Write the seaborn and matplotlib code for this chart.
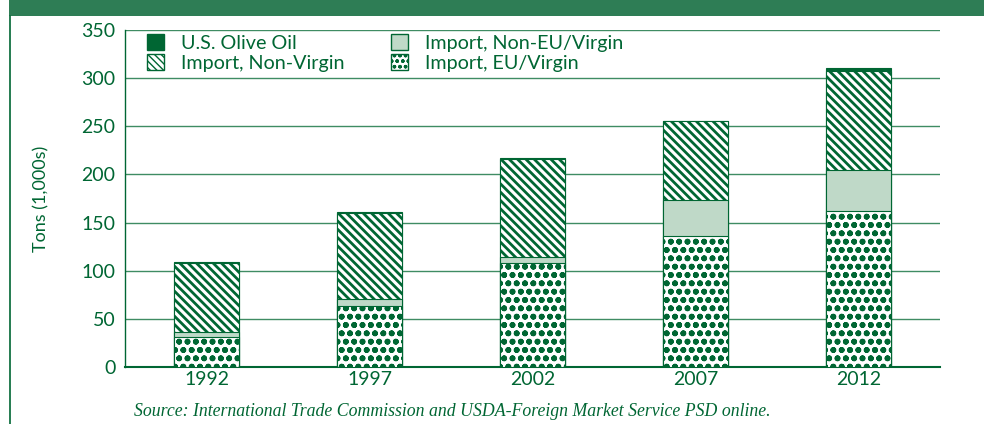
import matplotlib
matplotlib.use("Agg")
import matplotlib.pyplot as plt
import seaborn as sns
import numpy as np
import pandas as pd
from matplotlib.patches import Patch, Rectangle
from matplotlib.lines import Line2D

# ---- data (thousand tons) ----
years = ["1992", "1997", "2002", "2007", "2012"]
eu_virgin = [31, 63, 108, 136, 162]
non_eu_virgin = [5, 8, 6, 37, 43]
non_virgin = [72, 89, 102, 82, 102]
us_olive_oil = [0.8, 1.0, 1.0, 1.0, 3.5]

DARK = "#006633"
LIGHT = "#bfd9c8"
GRID = "#3f8c63"
BAND = "#2e7d55"

sns.set_theme(style="white")
plt.rcParams["font.family"] = ["Lato", "DejaVu Sans"]

fig = plt.figure(figsize=(9.84, 4.24), dpi=100)
W, H = 984, 424
ax = fig.add_axes([125 / W, 1 - 367 / H, (940 - 125) / W, (367 - 30) / H])

df = pd.DataFrame({
    "year": years,
    "eu": eu_virgin,
    "noneu": non_eu_virgin,
    "nv": non_virgin,
    "us": us_olive_oil,
})
df["c1"] = df["eu"]
df["c2"] = df["c1"] + df["noneu"]
df["c3"] = df["c2"] + df["nv"]
df["c4"] = df["c3"] + df["us"]

common = dict(x="year", order=years, width=0.4, saturation=1, ax=ax,
              edgecolor=DARK, linewidth=0.8, zorder=3)
sns.barplot(data=df, y="c4", color=DARK, **common)
with plt.rc_context({"hatch.linewidth": 2.0}):
    sns.barplot(data=df, y="c3", color="white", hatch="\\\\\\\\", **common)
sns.barplot(data=df, y="c2", color=LIGHT, **common)
with plt.rc_context({"hatch.linewidth": 1.8}):
    sns.barplot(data=df, y="c1", color="white", hatch="oo", **common)

ax.set_xlim(-0.5, 4.5)
ax.set_ylim(0, 350)
ax.set_yticks(np.arange(0, 351, 50))
ax.yaxis.grid(True, color=GRID, linewidth=1.0, zorder=0)
ax.set_axisbelow(True)
for s in ["top", "right"]:
    ax.spines[s].set_visible(False)
ax.spines["left"].set_color(DARK)
ax.spines["left"].set_linewidth(1.0)
ax.spines["bottom"].set_color(DARK)
ax.spines["bottom"].set_linewidth(1.5)

ax.set_xlabel("")
ax.set_ylabel("Tons (1,000s)", color=DARK, fontsize=13, labelpad=23)
ax.tick_params(axis="y", direction="inout", length=6, width=1, color=DARK,
               labelcolor=DARK, labelsize=14, pad=4)
ax.tick_params(axis="x", which="major", length=0, labelcolor=DARK,
               labelsize=14, pad=3)
ax.set_xticks(np.arange(-0.5, 4.6, 1.0), minor=True)
ax.tick_params(axis="x", which="minor", direction="out", length=5,
               width=1, color=DARK)

with plt.rc_context({"hatch.linewidth": 1.5}):
    handles = [
        Patch(facecolor=DARK, edgecolor=DARK, label="U.S. Olive Oil"),
        Patch(facecolor="white", edgecolor=DARK, hatch="\\\\\\\\\\", label="Import, Non-Virgin"),
        Patch(facecolor=LIGHT, edgecolor=DARK, label="Import, Non-EU/Virgin"),
        Patch(facecolor="white", edgecolor=DARK, hatch="ooo", label="Import, EU/Virgin"),
    ]
leg = ax.legend(handles=handles, ncol=2, loc="upper left",
                bbox_to_anchor=(147 / W, 1 - 34 / H), bbox_transform=fig.transFigure,
                frameon=False, fontsize=14.2, handlelength=0.85, handleheight=0.85,
                handletextpad=0.85, labelspacing=0.12, columnspacing=2.4,
                borderpad=0, borderaxespad=0)
for t in leg.get_texts():
    t.set_color(DARK)

# header band and left rule
fig.patches.append(Rectangle((9 / W, 1 - 16 / H), 1 - 9 / W, 16 / H,
                             transform=fig.transFigure, facecolor=BAND,
                             edgecolor="none", zorder=0))
fig.lines.append(Line2D([9.5 / W, 9.5 / W], [0, 1 - 16 / H],
                        transform=fig.transFigure, color=DARK, linewidth=1.2))

fig.text(452 / W, 1 - 411 / H,
         "Source: International Trade Commission and USDA-Foreign Market Service PSD online.",
         ha="center", va="center", color=DARK, fontsize=12.8, style="italic",
         family=["Liberation Serif", "DejaVu Serif"])

fig.savefig("out.png", dpi=100)
